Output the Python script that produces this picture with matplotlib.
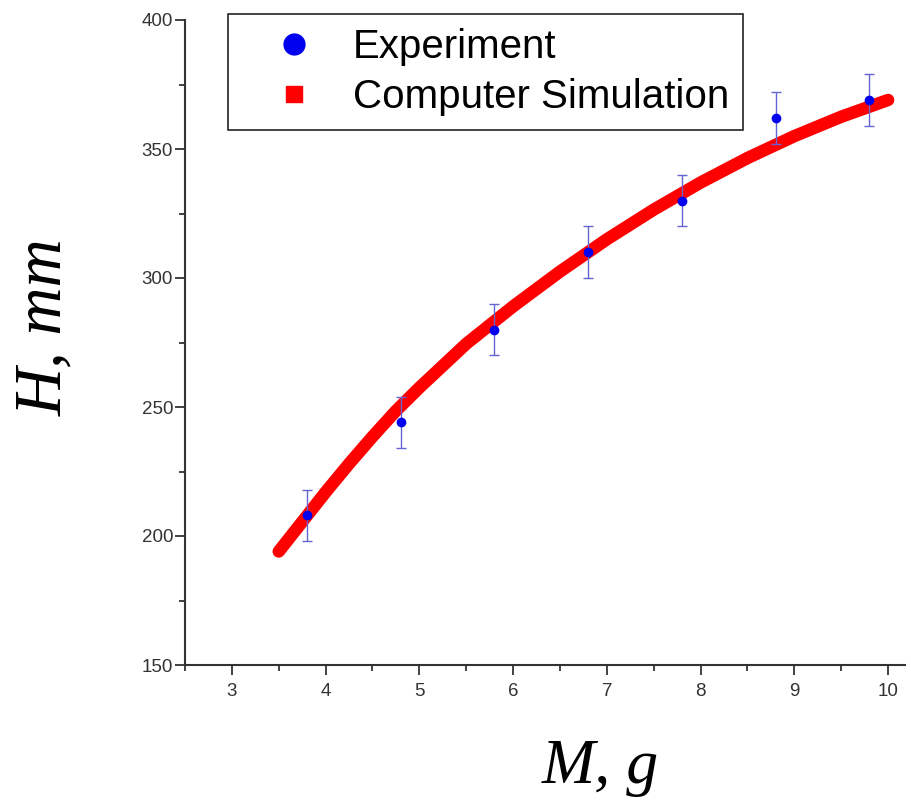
import matplotlib
matplotlib.use('Agg')
import matplotlib.pyplot as plt
from matplotlib.lines import Line2D
from matplotlib.ticker import MultipleLocator

# experiment points (M in g, H in mm) with error bars
mass_exp = [3.8, 4.8, 5.8, 6.8, 7.8, 8.8, 9.8]
height_exp = [208, 244, 280, 310, 330, 362, 369]
height_err = [10, 10, 10, 10, 10, 10, 10]

# simulation curve
mass_sim = [3.5, 3.75, 4.0, 4.25, 4.5, 4.75, 5.0, 5.5, 6.0, 6.5, 7.0, 7.5, 8.0, 8.5, 9.0, 9.5, 10.0]
height_sim = [194, 205.5, 217, 228, 238.5, 248.5, 257.5, 274.5, 289, 302.5, 315, 326.5, 337, 346.5, 355, 362.5, 369]

x_ticks = [3, 4, 5, 6, 7, 8, 9, 10]
y_ticks = [150, 200, 250, 300, 350, 400]

fig = plt.figure(figsize=(9.12, 8.02), dpi=100)
ax = fig.add_axes([185 / 912, 1 - 665 / 802, 720 / 912, 645 / 802])

ax.plot(mass_sim, height_sim, color='#ff0000', lw=9, solid_capstyle='round',
        solid_joinstyle='round', zorder=2)
ax.errorbar(mass_exp, height_exp, yerr=height_err, fmt='o', color='#0000ee', ms=6,
            ecolor='#6464d2', elinewidth=1, capsize=3.5, capthick=1, zorder=3)

ax.set_xlim(2.5, 10.18)
ax.set_ylim(150, 400)
ax.set_xticks(x_ticks)
ax.set_yticks(y_ticks)
ax.xaxis.set_minor_locator(MultipleLocator(0.5))
ax.yaxis.set_minor_locator(MultipleLocator(25))
ax.tick_params(which='major', length=7, width=1.3, color='#333333', labelsize=13.5,
               labelcolor='#333333')
ax.tick_params(axis='x', which='major', pad=6)
ax.tick_params(axis='y', which='major', pad=1.5)
ax.tick_params(which='minor', length=4.5, width=1.3, color='#333333')
for lab in ax.get_xticklabels() + ax.get_yticklabels():
    lab.set_family('Liberation Sans')

for side in ['top', 'right']:
    ax.spines[side].set_visible(False)
for side in ['left', 'bottom']:
    ax.spines[side].set_color('#333333')
    ax.spines[side].set_linewidth(1.5)

fig.text(600 / 912, 1 - 768 / 802, 'M, g', ha='center', va='center',
         family='Liberation Serif', style='italic', fontsize=46)
fig.text(45 / 912, 1 - 327 / 802, 'H, mm', ha='center', va='center', rotation=90,
         family='Liberation Serif', style='italic', fontsize=48)

handles = [
    Line2D([], [], ls='none', marker='o', color='#0000ee', ms=15),
    Line2D([], [], ls='none', marker='s', color='#ff0000', ms=12),
]
leg = fig.legend(handles, ['Experiment', 'Computer Simulation'], loc='upper left',
                 bbox_to_anchor=(228 / 912, 1 - 14 / 802), borderaxespad=0,
                 fancybox=False, edgecolor='#222222', framealpha=1,
                 prop={'family': 'Liberation Sans', 'size': 29},
                 handlelength=2.6, handletextpad=0.15, borderpad=0.35, labelspacing=0.3)
leg.get_frame().set_linewidth(1.2)

fig.savefig('out.png', dpi=100)
